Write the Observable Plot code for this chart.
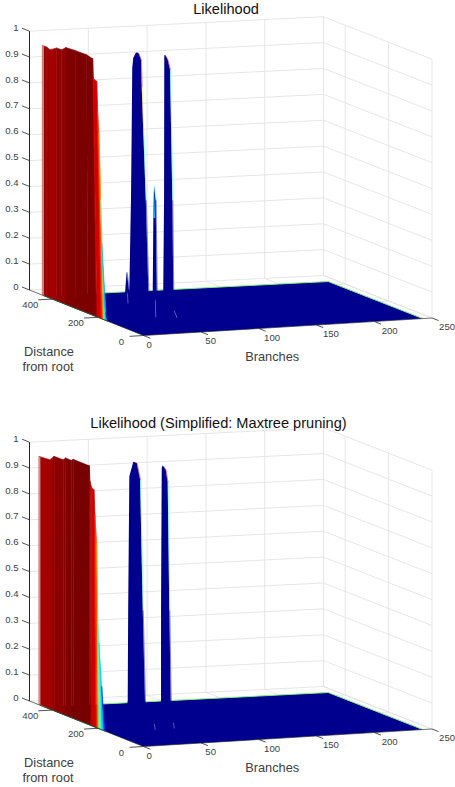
<!DOCTYPE html>
<html>
<head>
<meta charset="utf-8">
<style>html,body{margin:0;padding:0;background:#fff}svg{display:block}</style>
<script src="https://cdn.jsdelivr.net/npm/d3@7"></script>
<script src="https://cdn.jsdelivr.net/npm/@observablehq/plot@0.6"></script>
</head>
<body>
<div id="chart"></div>
<script>
// ---------- axes ----------
const branchTicks = [0, 50, 100, 150, 200, 250];
const distanceTicks = [0, 200, 400];
const likelihoodTicks = [0, 0.1, 0.2, 0.3, 0.4, 0.5, 0.6, 0.7, 0.8, 0.9, 1];
const branchMax = 250, distanceMax = 500;
const surfaceBranchMax = 242, surfaceDistanceMax = 435;

// ---------- top panel: full likelihood ----------
const titleA = "Likelihood";
const wallDistanceA = [440, 422, 408, 378.5, 356.6, 338, 298, 247, 220.6, 218, 203, 200, 193, 185.5, 181, 162, 153.5];
const wallBaseDistanceA = [440, 422, 408, 378.5, 356.6, 338, 298, 243, 205, 202, 184, 182, 175, 171, 164.5, 155.7, 153.5];
const wallLikelihoodA = [0.964, 0.964, 0.959, 0.976, 0.977, 0.992, 0.995, 0.996, 0.99, 0.916, 0.908, 0.819, 0.713, 0.457, 0.292, 0.028, 0];

const peak1BranchA = [33, 37.2, 38.6, 39.2, 39.7, 40.6, 42.9, 44.9, 47.2, 47.8, 49.2, 51.3, 53.5, 55];
const peak1LikeA = [0, 0.08, 0.425, 0.683, 0.935, 0.973, 0.993, 0.991, 0.964, 0.86, 0.681, 0.422, 0.073, 0];
const peak2BranchA = [65, 66.3, 67, 67.2, 67.8, 70.1, 72.1, 74.1, 74.9, 76.5];
const peak2LikeA = [0, 0.07, 0.418, 0.975, 0.978, 0.958, 0.919, 0.416, 0.068, 0];
const spikeBranchA = [56.5, 57.3, 57.8, 58.4, 59.8, 60.7, 61.5];
const spikeLikeA = [0, 0.072, 0.35, 0.474, 0.419, 0.071, 0];
const spikeTipBranchA = [57.8, 58.4, 59.2];
const spikeTipLikeA = [0.35, 0.474, 0.35];
const smallSpikeBranchA = [33, 33.7, 34.9, 36.9, 37.6];
const smallSpikeLikeA = [0, 0.078, 0.148, 0.077, 0];
const seamBranchA = [[25.4, 25.9], [49.4, 49.8], [65.6, 68.1]];
const seamLikeA = [[0.086, 0.047], [0.053, -0.013], [0.01, -0.02]];

// ---------- bottom panel: simplified ----------
const titleB = "Likelihood (Simplified: Maxtree pruning)";
const wallDistanceB = [455, 408, 390, 350, 339, 313, 306, 235.5, 232, 225, 215, 210.5, 203, 199, 193, 181, 167];
const wallBaseDistanceB = [455, 408, 390, 350, 339, 313, 306, 235, 228, 223.7, 208, 204, 197, 193, 180, 171, 167];
const wallLikelihoodB = [0.959, 0.963, 0.982, 0.983, 0.994, 0.993, 1, 1, 0.941, 0.92, 0.914, 0.819, 0.714, 0.456, 0.33, 0.166, 0];

const peak1BranchB = [34, 35.8, 36.2, 37.2, 40.6, 43.5, 46.4, 48.7, 50.6, 52.5];
const peak1LikeB = [0, 0.081, 0.429, 0.945, 1, 0.995, 0.93, 0.426, 0.077, 0];
const peak2BranchB = [63.4, 64.4, 64.41, 65, 65.8, 68.4, 70.1, 71.5, 72.7, 74];
const peak2LikeB = [0, 0.074, 0.422, 0.971, 0.98, 0.963, 0.912, 0.42, 0.072, 0];
const seamBranchB = [[48.5, 49.3], [65, 65.7]];
const seamLikeB = [[0.005, -0.02], [0.005, -0.017]];

// ---------- view of the 3-D box: where its corners land, per panel ----------
const corner = {O: [143, 335], R: [431.5, 317.5], L: [29, 289.5], B: [323, 275]};
const zHeight = 258.8, panelStep = 411;

function project(b, d, z, panel) {
  const u = b / branchMax, v = d / distanceMax;
  const mix = k => (1 - u) * (1 - v) * corner.O[k] + u * (1 - v) * corner.R[k] + (1 - u) * v * corner.L[k] + u * v * corner.B[k];
  return {x: mix(0), y: mix(1) - z * zHeight + panel * panelStep};
}

// rows for marks
const grid = [], axes = [], texts = [], floors = [], wallRows = [], peakRows = [], flanks = [], rims = [], wallBase = [], wallLeft = [], seams = [];
let strip = 0, pid = 0;

function seg(list, a, b, extra) { list.push({x1: a.x, y1: a.y, x2: b.x, y2: b.y, ...extra}); }

function buildPanel(panel, title, titleX, wall, peaks, tip, seamB, seamZ) {
  const P = (b, d, z = 0) => project(b, d, z, panel);
  // gridlines
  for (const z of likelihoodTicks) {
    seg(grid, P(0, distanceMax, z), P(branchMax, distanceMax, z));
    seg(grid, P(branchMax, distanceMax, z), P(branchMax, 0, z));
  }
  for (const b of branchTicks) {
    seg(grid, P(b, distanceMax, 0), P(b, distanceMax, 1));
    seg(grid, P(b, 0, 0), P(b, distanceMax, 0));
  }
  for (const d of distanceTicks) {
    seg(grid, P(branchMax, d, 0), P(branchMax, d, 1));
    seg(grid, P(0, d, 0), P(branchMax, d, 0));
  }
  // box axes
  seg(axes, P(0, distanceMax, 0), P(0, distanceMax, 1), {w: 1});
  seg(axes, P(0, distanceMax, 0), P(0, 0, 0), {w: 0.6});
  seg(axes, P(0, 0, 0), P(branchMax, 0, 0), {w: 0.6});
  // ticks and labels
  for (const z of likelihoodTicks) {
    seg(axes, P(0, distanceMax, z), P(0, distanceMax + 33, z), {w: 0.8});
    const p = P(0, distanceMax, z);
    texts.push({x: 18, y: p.y - 3.5, t: String(z), a: "end", s: 9.6});
  }
  for (const d of distanceTicks) {
    seg(axes, P(0, d, 0), P(-12, d, 0), {w: 0.8});
    const p = P(0, d, 0);
    texts.push({x: p.x - 22, y: p.y + 6, t: String(d), a: "middle", s: 9.6});
  }
  for (const b of branchTicks) {
    seg(axes, P(b, 0, 0), P(b, -30, 0), {w: 0.8});
    const p = P(b, 0, 0);
    texts.push({x: Math.min(p.x + 3 + b * 0.022, 438.6), y: p.y + 9, t: String(b), a: "start", s: 9.6});
  }
  // floor of the surface
  const fid = "floor" + panel;
  const f = [P(0, 0), P(surfaceBranchMax, 0), P(surfaceBranchMax, surfaceDistanceMax), P(0, surfaceDistanceMax)];
  for (const c of f) floors.push({id: fid, v: 0, x: c.x, y: c.y});
  seg(rims, f[3], f[2]);
  seg(rims, f[2], f[1]);
  // peaks, back to front
  for (const [bs, zs] of peaks) {
    pid++;
    const peakMax = zs.indexOf(d3.max(zs));
    bs.forEach((b, i) => {
      const t = P(b, 250, zs[i]), o = P(b, 250, 0);
      peakRows.push({id: "p" + pid, v: 0, x1: o.x, y1: o.y, x2: t.x, y2: t.y});
      if (i >= peakMax && i < bs.length - 1) {
        const n = P(bs[i + 1], 250, zs[i + 1]);
        seg(flanks, t, n, {v: zs[i + 1]});
      }
    });
  }
  if (tip) {
    pid++;
    tip[0].forEach((b, i) => {
      const t = P(b, 250, tip[1][i]), o = P(b, 250, 0.35);
      peakRows.push({id: "p" + pid, v: 0.33, x1: o.x, y1: o.y, x2: t.x, y2: t.y});
    });
  }
  seamB.forEach((bs, i) => seg(seams, P(bs[0], 200, seamZ[i][0]), P(bs[1], 200, seamZ[i][1])));
  // the red wall along branch 0
  const [dTop, dBase, zs] = wall;
  for (let i = 0; i < dTop.length - 1; i++) {
    strip++;
    for (const j of [i, i + 1]) {
      const t = P(0, dTop[j], zs[j]), o = P(0, dBase[j], 0);
      wallRows.push({id: "s" + strip, v: zs[i], x1: o.x, y1: o.y, x2: t.x, y2: t.y});
    }
  }
  seg(wallBase, P(0, dBase[0], 0), P(0, dBase[dBase.length - 1], 0));
  seg(wallLeft, P(0, dBase[0], 0), P(0, dTop[0], zs[0]));
  // titles
  texts.push({x: titleX, y: 9 + panel * 414, t: title, a: "middle", s: 14.6, c: "#111"});
  texts.push({x: 271.7, y: 356.5 + panel * panelStep, t: "Branches", a: "middle", s: 12.8});
  texts.push({x: 48.5, y: 351 + panel * panelStep, t: "Distance", a: "middle", s: 12.8});
  texts.push({x: 47.5, y: 366 + panel * panelStep, t: "from root", a: "middle", s: 12.8});
}

buildPanel(0, titleA, 225.5,
  [wallDistanceA, wallBaseDistanceA, wallLikelihoodA],
  [[smallSpikeBranchA, smallSpikeLikeA], [peak1BranchA, peak1LikeA], [spikeBranchA, spikeLikeA], [peak2BranchA, peak2LikeA]],
  [spikeTipBranchA, spikeTipLikeA], seamBranchA, seamLikeA);
buildPanel(1, titleB, 218,
  [wallDistanceB, wallBaseDistanceB, wallLikelihoodB],
  [[peak1BranchB, peak1LikeB], [peak2BranchB, peak2LikeB]],
  null, seamBranchB, seamLikeB);

const chart = Plot.plot({
  width: 455, height: 787, margin: 0,
  style: {background: "#fff", fontFamily: "'Liberation Sans', Arial, sans-serif"},
  x: {type: "linear", domain: [0, 455], range: [0, 455], axis: null},
  y: {type: "linear", domain: [0, 787], range: [0, 787], axis: null},
  color: {type: "linear", interpolate: "rgb",
    domain: [0, 0.125, 0.375, 0.625, 0.875, 0.992],
    range: ["#00008f", "#0000ff", "#00ffff", "#ffff00", "#ff0000", "#800000"]},
  marks: [
    Plot.link(grid, {x1: "x1", y1: "y1", x2: "x2", y2: "y2", stroke: "#e3e3e3", strokeWidth: 0.9}),
    Plot.line(floors, {x: "x", y: "y", z: "id", fill: "v", stroke: "none"}),
    Plot.link(rims, {x1: "x1", y1: "y1", x2: "x2", y2: "y2", stroke: "#86f07a", strokeWidth: 1}),
    Plot.area(peakRows, {x1: "x1", y1: "y1", x2: "x2", y2: "y2", z: "id", fill: "v"}),
    Plot.link(flanks, {x1: "x1", y1: "y1", x2: "x2", y2: "y2", stroke: "v", strokeWidth: 0.5}),
    Plot.link(seams, {x1: "x1", y1: "y1", x2: "x2", y2: "y2", stroke: "#7a7ad8", strokeWidth: 0.7}),
    Plot.area(wallRows, {x1: "x1", y1: "y1", x2: "x2", y2: "y2", z: "id", fill: "v", stroke: "v", strokeWidth: 0.5}),
    Plot.link(wallBase, {x1: "x1", y1: "y1", x2: "x2", y2: "y2", stroke: "#4f8a3f", strokeWidth: 0.8}),
    Plot.link(wallLeft, {x1: "x1", y1: "y1", x2: "x2", y2: "y2", stroke: "#d9a0a0", strokeWidth: 1.2}),
    Plot.link(axes, {x1: "x1", y1: "y1", x2: "x2", y2: "y2", stroke: "#262626", strokeWidth: "w"}),
    Plot.text(texts.filter(d => d.a === "end"), {x: "x", y: "y", text: "t", textAnchor: "end", fontSize: 9.6, fill: "#404040"}),
    Plot.text(texts.filter(d => d.a === "start"), {x: "x", y: "y", text: "t", textAnchor: "start", fontSize: 9.6, fill: "#404040"}),
    Plot.text(texts.filter(d => d.a === "middle" && d.s === 9.6), {x: "x", y: "y", text: "t", fontSize: 9.6, fill: "#404040"}),
    Plot.text(texts.filter(d => d.s === 12.8), {x: "x", y: "y", text: "t", fontSize: 12.8, fill: "#404040"}),
    Plot.text(texts.filter(d => d.s === 14.6), {x: "x", y: "y", text: "t", fontSize: 14.6, fill: "#111"})
  ]
});
document.getElementById("chart").appendChild(chart);
</script>
</body>
</html>
